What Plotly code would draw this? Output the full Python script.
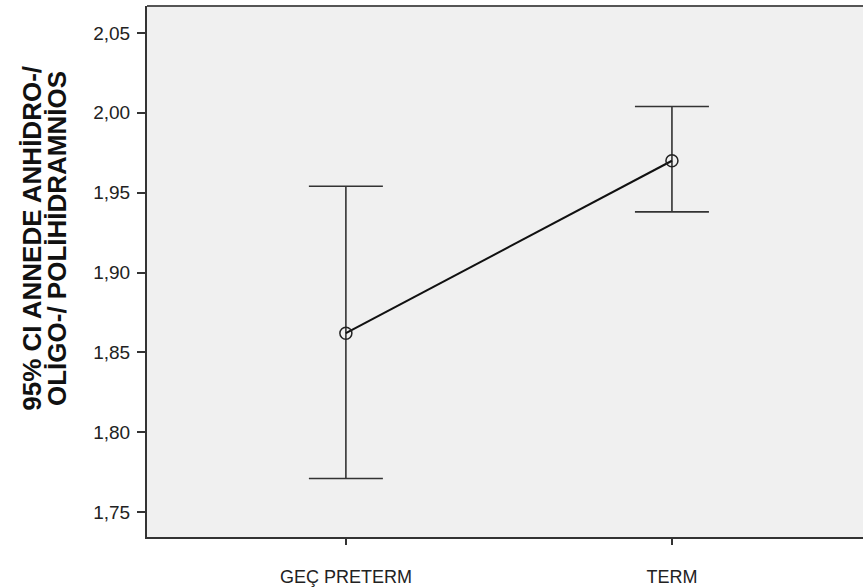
import plotly.graph_objects as go

# Group labels and 95% CI summary values
groups = ["GEÇ PRETERM", "TERM"]
means = [1.862, 1.970]
ci_upper = [1.954, 2.004]
ci_lower = [1.771, 1.938]

tick_vals = [1.75, 1.80, 1.85, 1.90, 1.95, 2.00, 2.05]
title_lines = ["95% CI ANNEDE ANHİDRO-/", "OLİGO-/ POLİHİDRAMNİOS"]

err_plus = [u - m for u, m in zip(ci_upper, means)]
err_minus = [m - l for m, l in zip(means, ci_lower)]

fig = go.Figure()
fig.add_trace(go.Scatter(
    x=groups,
    y=means,
    mode="lines+markers",
    line=dict(color="#111111", width=2),
    marker=dict(symbol="circle-open", size=12, color="#222222",
                line=dict(width=1.5, color="#222222")),
    error_y=dict(type="data", symmetric=False, array=err_plus,
                 arrayminus=err_minus, color="#333333",
                 thickness=1.6, width=37),
    showlegend=False,
    hoverinfo="skip",
))

# rotated two-line axis title, one annotation per line
title_x = [-0.161, -0.1257]
annotations = [
    dict(text="<b>" + line + "</b>", xref="paper", yref="paper",
         x=xp, y=0.563, xanchor="center", yanchor="middle",
         textangle=-90, showarrow=False,
         font=dict(size=26, color="#111111"))
    for line, xp in zip(title_lines, title_x)
]

fig.update_layout(
    width=863,
    height=588,
    margin=dict(l=147, r=0, t=6, b=51),
    paper_bgcolor="white",
    plot_bgcolor="#f0f0f0",
    separators=",.",
    font=dict(family="Liberation Sans, Arial, sans-serif", size=16,
              color="#222222"),
    xaxis=dict(
        type="category",
        range=[-0.61, 1.586],
        showgrid=False,
        zeroline=False,
        showline=True,
        linecolor="#333333",
        linewidth=2,
        ticks="outside",
        ticklen=6,
        tickcolor="#333333",
        tickwidth=1.5,
        ticklabelstandoff=16,
        tickfont=dict(size=18),
    ),
    yaxis=dict(
        range=[1.7344, 2.0669],
        tickvals=tick_vals,
        tickformat=".2f",
        showgrid=False,
        zeroline=False,
        showline=True,
        linecolor="#333333",
        linewidth=2,
        ticks="outside",
        ticklen=8,
        tickcolor="#333333",
        tickwidth=1.5,
        ticklabelstandoff=3,
        tickfont=dict(size=19),
    ),
    shapes=[dict(type="line", xref="paper", yref="paper",
                 x0=0, x1=1, y0=1, y1=1,
                 line=dict(color="#555555", width=2))],
    annotations=annotations,
)

fig.write_html("out.html")
